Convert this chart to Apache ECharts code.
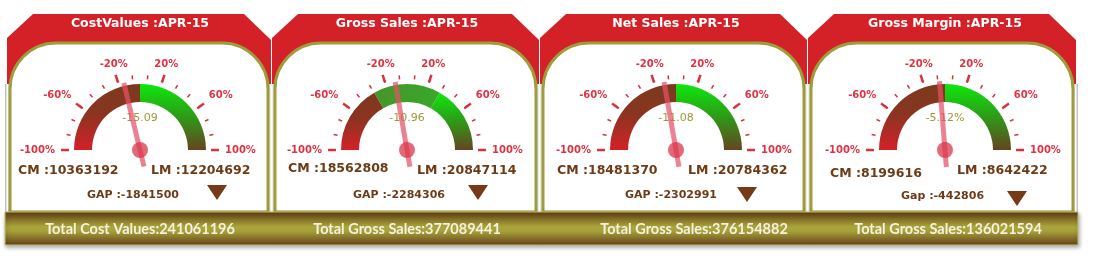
<!DOCTYPE html>
<html><head><meta charset="utf-8">
<script src="https://cdn.jsdelivr.net/npm/echarts@6/dist/echarts.min.js"></script>
<style>html,body{margin:0;padding:0;background:#fff}#c{width:1106px;height:270px}</style>
</head><body><div id="c"></div>
<script>
// ---- data ----
const titles = ['CostValues :APR-15', 'Gross Sales :APR-15', 'Net Sales :APR-15', 'Gross Margin :APR-15'];
const gaugeValues = [-15.09, -10.96, -11.08, -5.12];
const valueLabels = ['-15.09', '-10.96', '-11.08', '-5.12%'];
const cmValues = [10363192, 18562808, 18481370, 8199616];
const lmValues = [12204692, 20847114, 20784362, 8642422];
const gapPrefix = ['GAP', 'GAP', 'GAP', 'Gap'];
const gapValues = [-1841500, -2284306, -2302991, -442806];
const totalLabels = ['Total Cost Values', 'Total Gross Sales', 'Total Gross Sales', 'Total Gross Sales'];
const totalValues = [241061196, 377089441, 376154882, 136021594];
const axisMin = -100, axisMax = 100, labelStep = 40;

// ---- layout / style ----
const panelX = [7, 272, 540, 808];
const panelW = [264, 267, 267, 268];
const gaugeCX = [140, 407, 676, 945];
const gaugeCY = 150;
const cmPos = [[18, 171], [288, 169], [557, 171], [830, 174]];
const lmPos = [[151, 171], [417, 171], [688, 171], [957, 171]];
const gapPos = [[87, 195], [353, 195], [625, 195], [901, 196]];
const triPos = [[217, 185], [478, 185], [747, 187], [1017, 191]];
const totalX = [140, 407, 694, 948];
const bandStops = [[0.5, 1], [0.335, 0.665, 1], [0.5, 1], [0.5, 1]];

const G = echarts.graphic;
const redBand = () => new G.LinearGradient(0, 1, 0, 0, [{offset: 0, color: '#d42128'}, {offset: 0.55, color: '#8a3420'}, {offset: 1, color: '#7a3b1c'}]);
const greenBand = () => new G.LinearGradient(0, 0, 0, 1, [{offset: 0, color: '#0ee80e'}, {offset: 0.5, color: '#2e9a18'}, {offset: 1, color: '#654420'}]);
const midBand = () => new G.LinearGradient(0, 0, 1, 0, [{offset: 0, color: '#47952a'}, {offset: 1, color: '#38a82a'}]);

function bandColors(i) {
  const s = bandStops[i];
  if (s.length === 2) return [[s[0], redBand()], [s[1], greenBand()]];
  return [[s[0], redBand()], [s[1], midBand()], [s[2], greenBand()]];
}

const TXT = '#6e3b17';
const elements = [];
// red headers
for (let i = 0; i < 4; i++) {
  const x0 = panelX[i], x1 = panelX[i] + panelW[i];
  elements.push({type: 'polygon', z: 0, shape: {points: [[x0, 38], [x0 + 26, 14], [x1 - 27, 14], [x1, 40], [x1, 86], [x0, 86]]}, style: {fill: '#d42027'}});
}
// grey pillars
const pillarXs = [[5, 10]];
for (let i = 0; i < 3; i++) {
  const x1 = panelX[i] + panelW[i];
  pillarXs.push([x1 - 4, panelX[i + 1] + 4]);
}
pillarXs.push([1073, 1078]);
pillarXs.forEach(p => {
  elements.push({type: 'rect', z: 0, shape: {x: p[0], y: 84, width: p[1] - p[0], height: 128},
    style: {fill: new G.LinearGradient(0, 0, 1, 0, [{offset: 0, color: '#b4b4b4'}, {offset: 0.5, color: '#ffffff'}, {offset: 1, color: '#b4b4b4'}])}});
});
// white panels
for (let i = 0; i < 4; i++) {
  elements.push({type: 'rect', z: 1, shape: {x: panelX[i] + 3, y: 43, width: panelW[i] - 6, height: 169, r: [46, 46, 0, 0]},
    style: {fill: '#ffffff', stroke: '#9e9c3b', lineWidth: 3}});
  // title
  elements.push({type: 'text', z: 5, style: {text: titles[i], x: gaugeCX[i], y: 24, fill: '#ffffff', font: 'bold 12.5px "DejaVu Sans"', align: 'center', verticalAlign: 'middle', textAlign: 'center', textVerticalAlign: 'middle'}});
  elements.push({type: 'text', z: 5, style: {text: 'CM :' + cmValues[i], x: cmPos[i][0], y: cmPos[i][1], fill: TXT, font: 'bold 12.5px "DejaVu Sans"', align: 'left', verticalAlign: 'middle', textAlign: 'left', textVerticalAlign: 'middle'}});
  elements.push({type: 'text', z: 5, style: {text: 'LM :' + lmValues[i], x: lmPos[i][0], y: lmPos[i][1], fill: TXT, font: 'bold 12.5px "DejaVu Sans"', align: 'left', verticalAlign: 'middle', textAlign: 'left', textVerticalAlign: 'middle'}});
  elements.push({type: 'text', z: 5, style: {text: gapPrefix[i] + ' :' + gapValues[i], x: gapPos[i][0], y: gapPos[i][1], fill: TXT, font: 'bold 11px "DejaVu Sans"', align: 'left', verticalAlign: 'middle', textAlign: 'left', textVerticalAlign: 'middle'}});
  const t = triPos[i];
  elements.push({type: 'polygon', z: 5, shape: {points: [[t[0] - 10, t[1]], [t[0] + 10, t[1]], [t[0], t[1] + 15]]}, style: {fill: '#773a16'}});
}
// bottom bar
elements.push({type: 'rect', z: 6, shape: {x: 5, y: 212, width: 1073, height: 33},
  style: {fill: new G.LinearGradient(0, 0, 0, 1, [{offset: 0, color: '#5e3a12'}, {offset: 0.45, color: '#aaa53c'}, {offset: 0.58, color: '#a6a03a'}, {offset: 1, color: '#63401a'}]),
    stroke: '#c4c070', lineWidth: 1, shadowBlur: 4, shadowColor: 'rgba(0,0,0,0.35)', shadowOffsetY: 2, shadowOffsetX: 1}});
for (let i = 0; i < 4; i++) {
  elements.push({type: 'text', z: 7, style: {text: totalLabels[i] + ':' + totalValues[i], x: totalX[i], y: 229, fill: '#f4f2de', font: 'bold 14.5px Lato', align: 'center', verticalAlign: 'middle', textAlign: 'center', textVerticalAlign: 'middle'}});
}

const polar = [], angleAxis = [], radiusAxis = [], series = [];
for (let i = 0; i < 4; i++) {
  polar.push({center: [gaugeCX[i], gaugeCY], radius: 88});
  angleAxis.push({polarIndex: i, type: 'value', min: axisMin, max: axisMin + 2 * (axisMax - axisMin), interval: labelStep,
    startAngle: 180, clockwise: true, z: 8,
    axisLine: {show: false}, axisTick: {show: false}, splitLine: {show: false},
    axisLabel: {margin: -3, color: '#de3343', fontWeight: 'bold', fontSize: 10, fontFamily: 'DejaVu Sans',
      formatter: v => (v <= axisMax ? v + '%' : '')}});
  radiusAxis.push({polarIndex: i, show: false, axisLine: {show: false}, axisTick: {show: false}, axisLabel: {show: false}, splitLine: {show: false}});
  series.push({
    type: 'gauge', z: 9, center: [gaugeCX[i], gaugeCY], radius: 66,
    startAngle: 180, endAngle: 0, min: axisMin, max: axisMax, splitNumber: 5,
    axisLine: {lineStyle: {width: 18, color: bandColors(i)}},
    splitLine: {length: 8, distance: -31, lineStyle: {color: '#d8323f', width: 2.5}},
    axisTick: {splitNumber: 3, length: 4, distance: -27, lineStyle: {color: '#d8323f', width: 1.5}},
    axisLabel: {show: false},
    pointer: {show: true, icon: 'rect', length: 86, width: 5, offsetCenter: [0, 17], itemStyle: {color: 'rgba(228,80,102,0.72)'}},
    anchor: {show: true, showAbove: true, size: 16, itemStyle: {color: 'rgba(218,55,75,0.75)'}},
    title: {show: false},
    detail: {show: true, offsetCenter: [0, -32], formatter: () => valueLabels[i], color: '#9c9a38', fontSize: 11, fontFamily: 'DejaVu Sans', fontWeight: 'normal'},
    data: [{value: gaugeValues[i]}]
  });
}

const chart = echarts.init(document.getElementById('c'));
chart.setOption({
  animation: false,
  graphic: {elements: elements},
  polar: polar, angleAxis: angleAxis, radiusAxis: radiusAxis,
  series: series
});
</script></body></html>
